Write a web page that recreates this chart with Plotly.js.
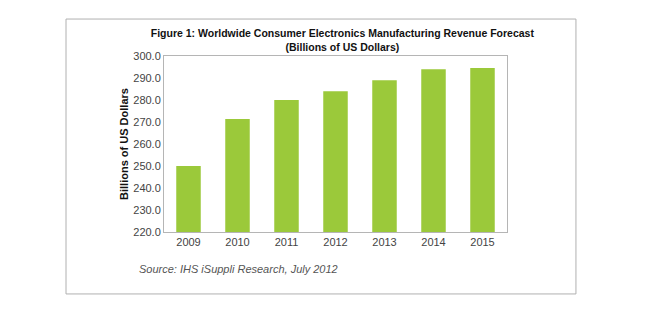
<!DOCTYPE html>
<html>
<head>
<meta charset="utf-8">
<script src="https://cdn.plot.ly/plotly-3.0.1.min.js"></script>
<style>html,body{margin:0;padding:0;background:#fff;}#chart{width:671px;height:327px;}</style>
</head>
<body>
<div id="chart"></div>
<script>
const years = ['2009', '2010', '2011', '2012', '2013', '2014', '2015'];
const revenue = [250.0, 271.4, 280.0, 284.0, 289.0, 294.0, 294.5];
const yTicks = [220, 230, 240, 250, 260, 270, 280, 290, 300];
const yTickLabels = yTicks.map(v => v.toFixed(1));

const trace = {
  type: 'bar',
  x: years,
  y: revenue,
  marker: {color: '#9bc93a'},
  hoverinfo: 'x+y'
};

const layout = {
  width: 671,
  height: 327,
  margin: {l: 164, r: 164, t: 56, b: 95},
  paper_bgcolor: '#ffffff',
  plot_bgcolor: '#ffffff',
  showlegend: false,
  bargap: 0.5,
  font: {family: 'Arial, Liberation Sans, sans-serif', size: 11, color: '#444'},
  title: {
    text: '<b>Figure 1: Worldwide Consumer Electronics Manufacturing Revenue Forecast<br>(Billions of US Dollars)</b>',
    font: {family: 'Arial, Liberation Sans, sans-serif', size: 10.5, color: '#111'},
    x: 0.52, xref: 'paper', xanchor: 'center',
    y: 0.887, yref: 'container', yanchor: 'middle'
  },
  xaxis: {
    type: 'category',
    showline: true, mirror: true, linecolor: '#b5b5b5', linewidth: 1,
    ticks: '', showgrid: false, zeroline: false,
    tickfont: {size: 11, color: '#444'}
  },
  yaxis: {
    range: [220, 300],
    tickvals: yTicks,
    ticktext: yTickLabels,
    showline: true, mirror: true, linecolor: '#b5b5b5', linewidth: 1,
    ticks: '', showgrid: false, zeroline: false,
    tickfont: {size: 11, color: '#444'},
    title: {
      text: '<b>Billions of US Dollars</b>',
      font: {size: 11, color: '#111'},
      standoff: 2
    }
  },
  annotations: [{
    text: '<i>Source: IHS iSuppli Research, July 2012</i>',
    xref: 'paper', yref: 'paper',
    x: -0.079, y: -0.21, xanchor: 'left', yanchor: 'middle',
    showarrow: false,
    font: {size: 11, color: '#555'}
  }],
  shapes: [{
    type: 'rect', xref: 'paper', yref: 'paper',
    x0: -0.2857, x1: 1.201, y0: -0.352, y1: 1.21,
    line: {color: '#b0b0b0', width: 1},
    fillcolor: 'rgba(0,0,0,0)', layer: 'below'
  }]
};

Plotly.newPlot('chart', [trace], layout, {displayModeBar: false, staticPlot: true});
</script>
</body>
</html>
